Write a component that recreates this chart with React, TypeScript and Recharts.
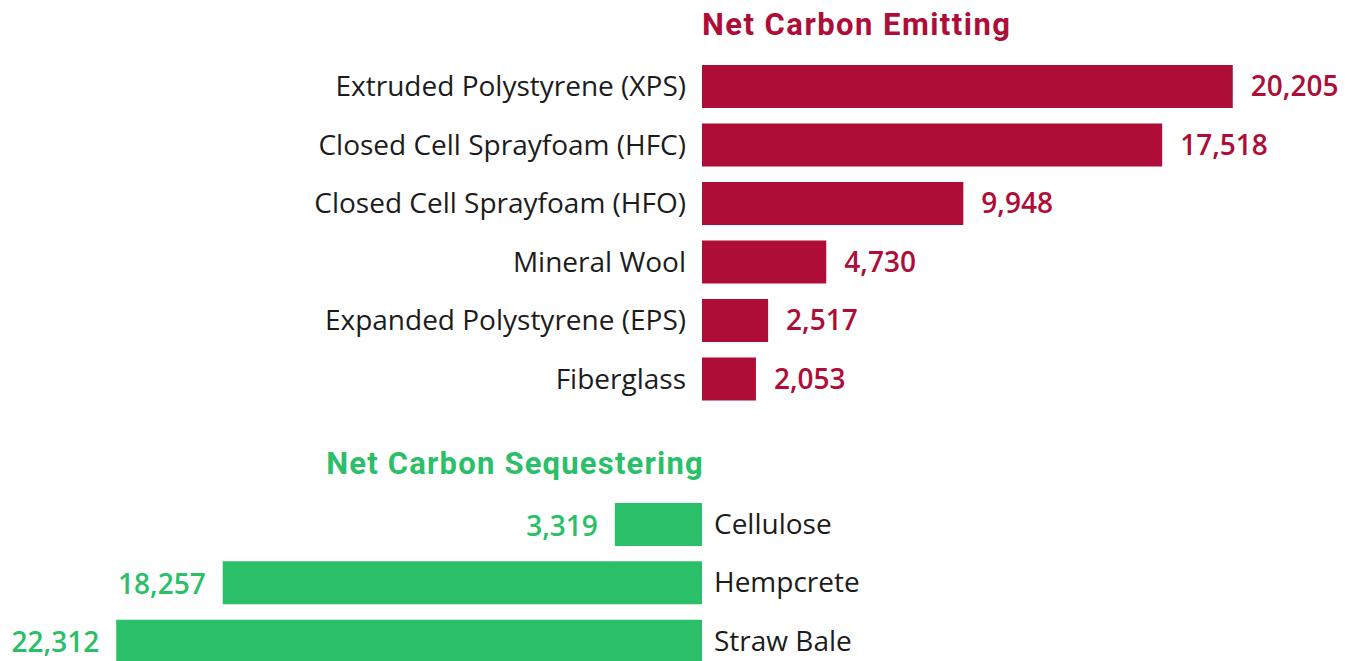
import { BarChart, Bar, XAxis, YAxis, LabelList } from 'recharts'

const emitNames = [
  'Extruded Polystyrene (XPS)',
  'Closed Cell Sprayfoam (HFC)',
  'Closed Cell Sprayfoam (HFO)',
  'Mineral Wool',
  'Expanded Polystyrene (EPS)',
  'Fiberglass',
]
const emitValues = [20205, 17518, 9948, 4730, 2517, 2053]

const seqNames = ['Cellulose', 'Hempcrete', 'Straw Bale']
const seqValues = [3319, 18257, 22312]

const RED = '#ae0d37'
const GREEN = '#2abf68'
const INK = '#1c1c1c'
const LABEL_FONT = '"Open Sans", sans-serif'
const TITLE_FONT = 'Roboto, sans-serif'

const emitData = emitNames.map((name, i) => ({ name, value: emitValues[i] }))
const seqData = seqNames.map((name, i) => ({ name, value: seqValues[i] }))

const fmt = (v: number) => v.toLocaleString('en-US')

// value label sitting left of a bar that grows leftwards
function LeftValue(props: any) {
  const { x, y, width, height, value } = props
  const left = Math.min(x, x + width)
  return (
    <text
      x={left - 17}
      y={y + height / 2}
      textAnchor="end"
      dominantBaseline="central"
      fill={GREEN}
      fontSize={28}
      fontWeight={600}
      fontFamily={LABEL_FONT}
    >
      {fmt(value)}
    </text>
  )
}

export default function App() {
  return (
    <div style={{ position: 'absolute', left: 0, top: 0, width: 1354, height: 661, overflow: 'hidden', background: '#fff' }}>
      <div style={{ position: 'absolute', left: 0, top: 0 }}>
        <BarChart width={1354} height={420} data={emitData} layout="vertical" margin={{ top: 57, right: 0, bottom: 12, left: 0 }}>
          <XAxis type="number" hide domain={[0, 24820]} />
          <YAxis
            type="category"
            dataKey="name"
            width={702}
            axisLine={false}
            tickLine={false}
            tickSize={0}
            tickMargin={16}
            interval={0}
            tick={{ fontSize: 28, fill: INK, fontFamily: LABEL_FONT }}
          />
          <Bar dataKey="value" fill={RED} barSize={43} isAnimationActive={false}>
            <LabelList
              dataKey="value"
              position="right"
              offset={18}
              formatter={((v: number) => fmt(v)) as any}
              fill={RED}
              fontSize={28}
              fontWeight={600}
              fontFamily={LABEL_FONT}
            />
          </Bar>
        </BarChart>
      </div>
      <div style={{ position: 'absolute', left: 0, top: 440 }}>
        <BarChart width={1354} height={240} data={seqData} layout="vertical" margin={{ top: 55, right: 0, bottom: 10, left: 0 }}>
          <XAxis type="number" hide reversed domain={[0, 26740]} />
          <YAxis
            type="category"
            dataKey="name"
            orientation="right"
            width={652}
            axisLine={false}
            tickLine={false}
            tickSize={0}
            tickMargin={12}
            interval={0}
            tick={{ fontSize: 28, fill: INK, fontFamily: LABEL_FONT }}
          />
          <Bar dataKey="value" fill={GREEN} barSize={43} isAnimationActive={false}>
            <LabelList dataKey="value" content={<LeftValue />} />
          </Bar>
        </BarChart>
      </div>
      <svg width={1354} height={661} style={{ position: 'absolute', left: 0, top: 0, pointerEvents: 'none' }}>
        <text x={702} y={35} fill={RED} fontSize={31} fontWeight={700} letterSpacing={1.45} fontFamily={TITLE_FONT}>
          Net Carbon Emitting
        </text>
        <text x={704} y={474} textAnchor="end" fill={GREEN} fontSize={31} fontWeight={700} letterSpacing={1.2} fontFamily={TITLE_FONT}>
          Net Carbon Sequestering
        </text>
      </svg>
    </div>
  )
}
